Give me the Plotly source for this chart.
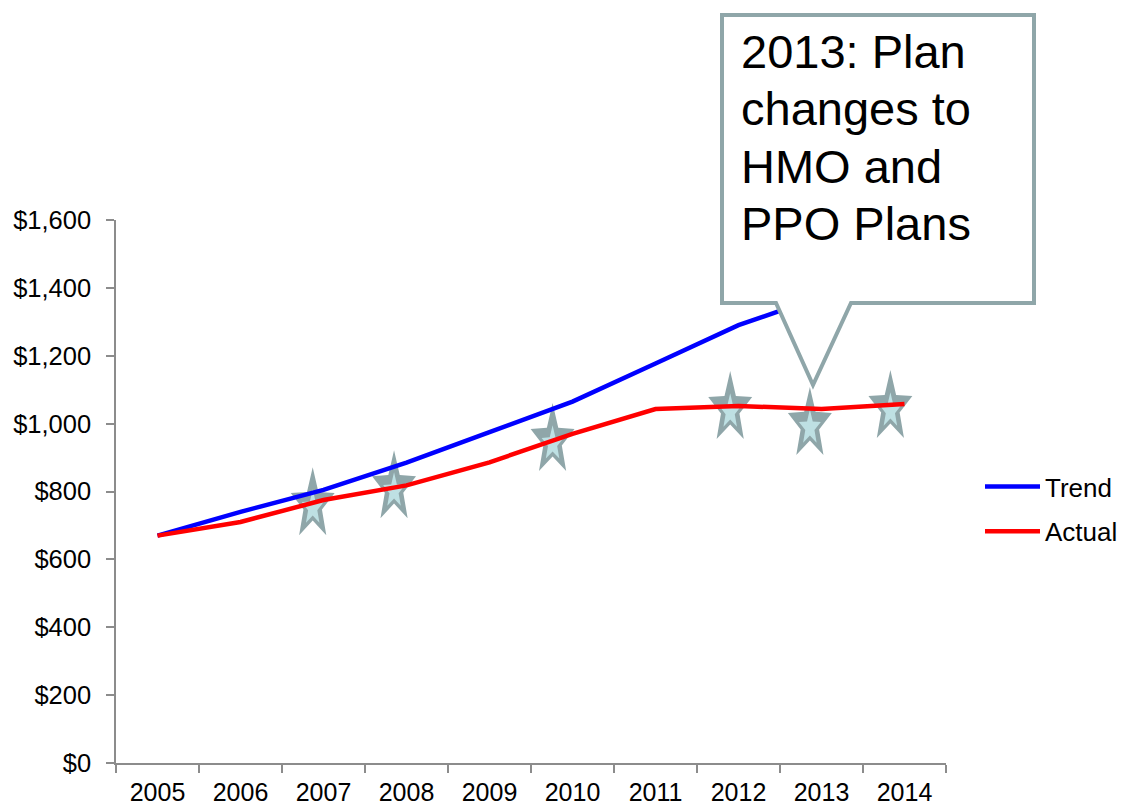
import math
import plotly.graph_objects as go

# ---------------- data ----------------
years = [2005, 2006, 2007, 2008, 2009, 2010, 2011, 2012, 2013, 2014]
trend = [670, 740, 805, 885, 975, 1065, 1177, 1290, 1375, 1465]
actual = [670, 710, 775, 818, 886, 970, 1043, 1052, 1043, 1058]

# decorative star markers (x in year units, y in dollars)
star_x = [2006.87, 2007.85, 2009.76, 2011.90, 2012.86, 2013.83]
star_y = [761, 811, 950, 1044, 997, 1047]

y_ticks = [0, 200, 400, 600, 800, 1000, 1200, 1400, 1600]
callout_lines = ["2013: Plan", "changes to", "HMO and", "PPO Plans"]

# ---------------- layout constants ----------------
W, H = 1121, 808
ML, MR, MT, MB = 116, 175, 220, 45
PW, PH = W - ML - MR, H - MT - MB
FONT = "Liberation Sans, Arial, sans-serif"
GRAY = "#8FA6A9"
LIGHT = "#BEE0E3"
AXIS = "#8C8C8C"


def px(x):
    return (x - ML) / PW


def py(y):
    return (H - MB - y) / PH


def star_path(rx, ry, ratio):
    pts = []
    for i in range(10):
        a = math.radians(90 + 36 * i)
        r = 1.0 if i % 2 == 0 else ratio
        pts.append((rx * r * math.cos(a), ry * r * math.sin(a)))
    return "M" + " L".join(f"{x:.2f},{y:.2f}" for x, y in pts) + " Z"


fig = go.Figure()

fig.add_trace(go.Scatter(x=years, y=trend, name="Trend", mode="lines",
                         line=dict(color="#0000FF", width=4.5),
                         legendgroup="a"))
fig.add_trace(go.Scatter(x=years, y=actual, name="Actual", mode="lines",
                         line=dict(color="#FF0000", width=4.5),
                         legendgroup="b"))

shapes = []
outer = star_path(23.1, 37.6, 0.42)
inner = star_path(11.5, 18.5, 0.42)
for sx, sy in zip(star_x, star_y):
    shapes.append(dict(type="path", xref="x", yref="y", xsizemode="pixel",
                       ysizemode="pixel", xanchor=sx, yanchor=sy, path=outer,
                       fillcolor=GRAY, line=dict(width=0), layer="below"))
    shapes.append(dict(type="path", xref="x", yref="y", xsizemode="pixel",
                       ysizemode="pixel", xanchor=sx, yanchor=sy - 9,
                       path=inner, fillcolor=LIGHT, line=dict(width=0),
                       layer="below"))

# callout box
L, R, T, B = 722, 1034, 15, 303
bl, br, tipx, tipy = 776, 851, 813, 385
pts = [(L, T), (R, T), (R, B), (br, B), (tipx, tipy), (bl, B), (L, B)]
callout = "M" + " L".join(f"{px(x):.5f},{py(y):.5f}" for x, y in pts) + " Z"
shapes.append(dict(type="path", xref="paper", yref="paper", path=callout,
                   fillcolor="white", line=dict(color=GRAY, width=4),
                   layer="above"))

annotations = []
for i, t in enumerate(callout_lines):
    annotations.append(dict(text=t, xref="paper", yref="paper",
                            x=px(739), y=py(52 + 57 * i), xanchor="left",
                            yanchor="middle", showarrow=False,
                            font=dict(family=FONT, size=47, color="black")))

fig.update_layout(
    width=W, height=H,
    margin=dict(l=ML, r=MR, t=MT, b=MB, pad=0, autoexpand=False),
    paper_bgcolor="white", plot_bgcolor="white",
    font=dict(family=FONT, size=25, color="black"),
    showlegend=True,
    legend=dict(x=px(980), y=py(463), xanchor="left", yanchor="top",
                font=dict(family=FONT, size=26, color="black"),
                tracegroupgap=8, itemwidth=55, bgcolor="rgba(0,0,0,0)"),
    shapes=shapes,
    annotations=annotations,
)

bounds = [y - 0.5 for y in years] + [years[-1] + 0.5]
fig.update_xaxes(range=[years[0] - 0.5, years[-1] + 0.5], tickvals=years,
                 ticktext=[str(y) for y in years], ticks="", showgrid=False,
                 zeroline=False, showline=True, linecolor=AXIS, linewidth=1.5,
                 ticklabelstandoff=6, automargin=False,
                 minor=dict(tickvals=bounds, ticks="outside", ticklen=8,
                            tickcolor=AXIS, tickwidth=1.5, showgrid=False),
                 tickfont=dict(family=FONT, size=25, color="black"))
fig.update_yaxes(range=[0, 1600], tickvals=y_ticks,
                 ticktext=[f"${v:,}" for v in y_ticks], ticks="outside",
                 ticklen=8, tickcolor=AXIS, tickwidth=1.5, showgrid=False,
                 zeroline=False, showline=True, linecolor=AXIS, linewidth=1.5,
                 ticklabelstandoff=10, automargin=False,
                 tickfont=dict(family=FONT, size=25.5, color="black"))

fig.write_html("out.html")
